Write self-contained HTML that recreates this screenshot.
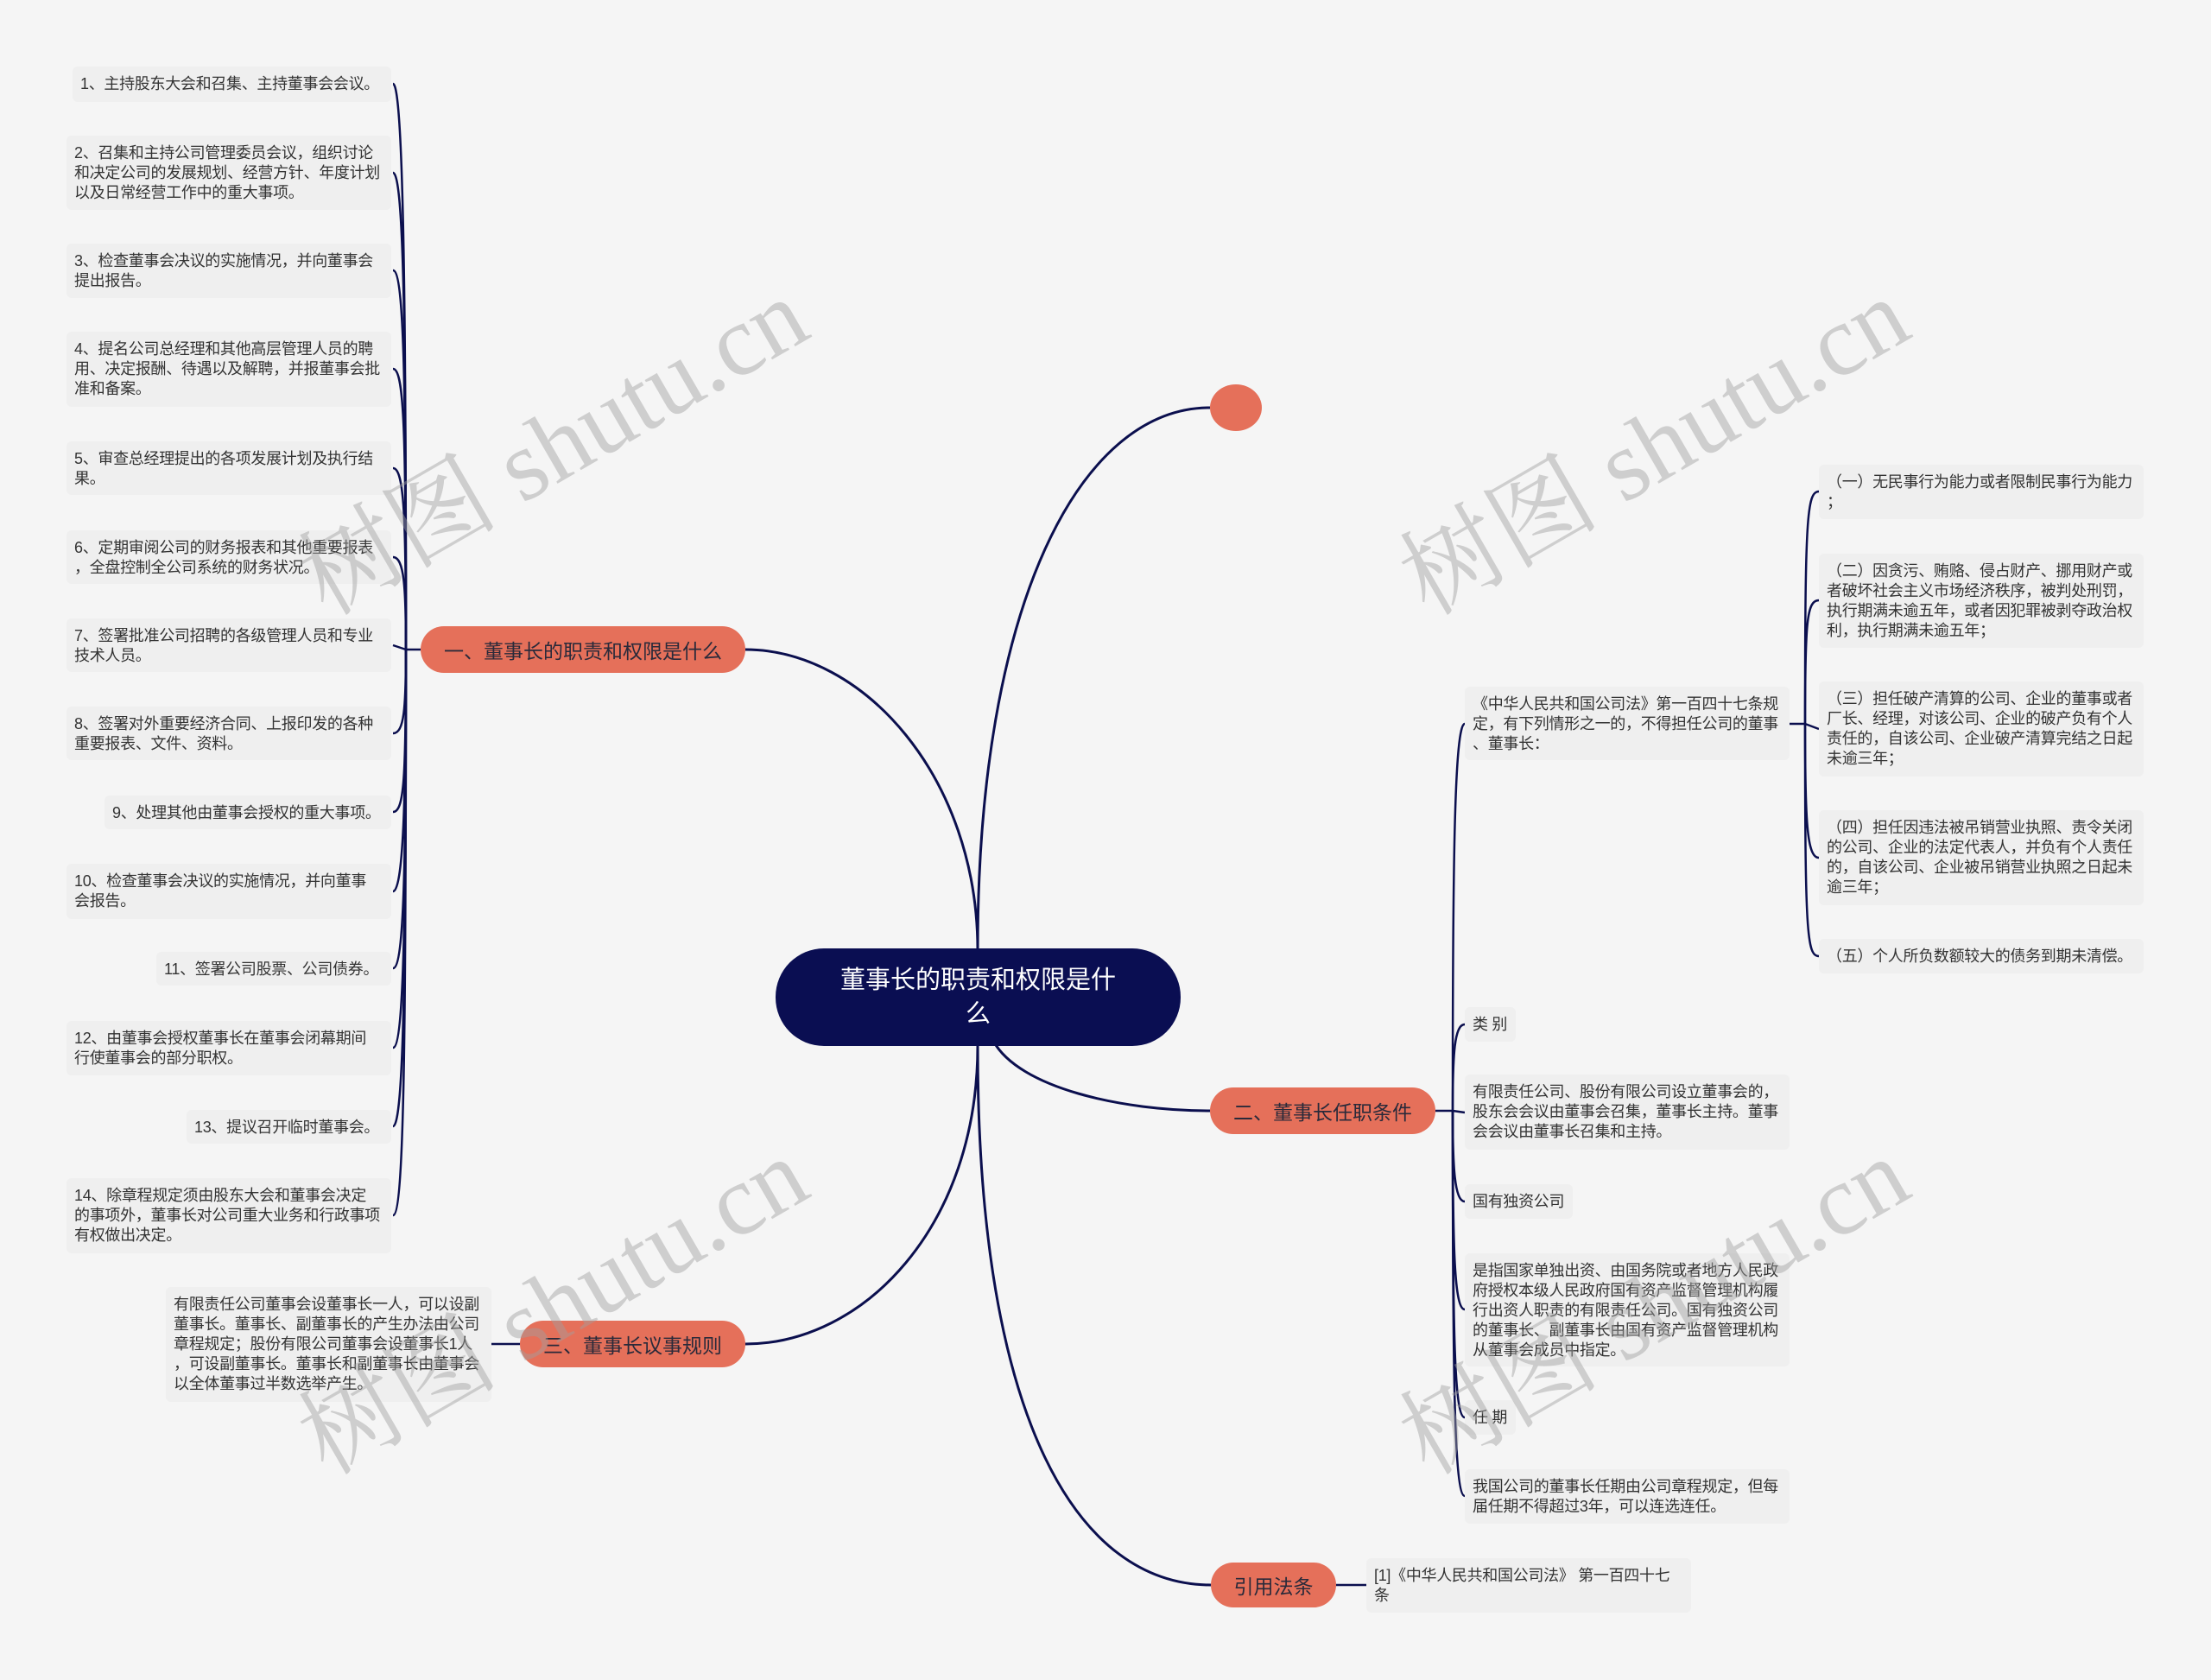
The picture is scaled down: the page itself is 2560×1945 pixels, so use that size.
<!DOCTYPE html>
<html><head><meta charset="utf-8">
<style>
html,body{margin:0;padding:0;}
body{width:2560px;height:1945px;background:#f5f5f5;position:relative;overflow:hidden;font-family:"Liberation Sans","Noto Sans CJK SC",sans-serif;}
.b{position:absolute;background:#efefef;border-radius:6px;font-size:18px;line-height:23px;color:#333;box-sizing:border-box;padding:9px 9px 0 9px;white-space:nowrap;letter-spacing:-0.3px;}
.o{position:absolute;background:#e5705a;border-radius:30px;color:#2a2a3a;font-size:23px;display:flex;align-items:center;justify-content:center;box-sizing:border-box;white-space:nowrap;}
.wm{position:absolute;font-family:"Liberation Serif","Noto Serif CJK SC",serif;font-size:116px;color:rgba(160,160,160,0.45);transform:rotate(-30deg);transform-origin:center;white-space:nowrap;}
svg{position:absolute;left:0;top:0;}
</style></head><body>
<svg width="2560" height="1945" fill="none" stroke="#0b0f4e" stroke-width="3">
<path d="M1132,1100 C1132,700 1250,472 1401,472"/>
<path d="M1132,1100 C1132,900 1000,752 863,752"/>
<path d="M1150,1205 C1180,1260 1300,1286 1401,1286"/>
<path d="M1132,1211 C1132,1420 1000,1556 863,1556"/>
<path d="M1132,1211 C1132,1650 1250,1835 1402,1835"/>
<g stroke-width="2.5">
<path d="M487,752 L470,752"/>
<path d="M470,752 C470,400 468,97 455,97"/>
<path d="M470,752 C470,400 468,200 455,200"/>
<path d="M470,752 C470,450 468,313 455,313"/>
<path d="M470,752 C470,500 468,427 455,427"/>
<path d="M470,752 C470,600 468,542 455,542"/>
<path d="M470,752 C470,680 468,645 455,645"/>
<path d="M470,752 L455,747"/>
<path d="M470,752 C470,820 468,849 455,849"/>
<path d="M470,752 C470,900 468,940 455,940"/>
<path d="M470,752 C470,900 468,1032 455,1032"/>
<path d="M470,752 C470,1000 468,1121 455,1121"/>
<path d="M470,752 C470,1050 468,1213 455,1213"/>
<path d="M470,752 C470,1100 468,1304 455,1304"/>
<path d="M470,752 C470,1200 468,1407 455,1407"/>
<path d="M602,1556 L569,1556"/>
<path d="M1662,1286 L1682,1286"/>
<path d="M1682,1286 C1682,1000 1684,838 1696,838"/>
<path d="M1682,1286 C1682,1220 1684,1186 1696,1186"/>
<path d="M1682,1286 L1696,1288"/>
<path d="M1682,1286 C1682,1350 1684,1391 1696,1391"/>
<path d="M1682,1286 C1682,1450 1684,1516 1696,1516"/>
<path d="M1682,1286 C1682,1550 1684,1641 1696,1641"/>
<path d="M1682,1286 C1682,1600 1684,1732 1696,1732"/>
<path d="M2072,838 L2090,838"/>
<path d="M2090,838 C2090,600 2092,569 2106,569"/>
<path d="M2090,838 C2090,720 2092,695 2106,695"/>
<path d="M2090,838 L2106,844"/>
<path d="M2090,838 C2090,950 2092,993 2106,993"/>
<path d="M2090,838 C2090,1080 2092,1107 2106,1107"/>
<path d="M1547,1835 L1582,1835"/>
</g>
</svg>

<div class="b" style="left:84px;top:77px;width:369px;height:41px;">1、主持股东大会和召集、主持董事会会议。</div>
<div class="b" style="left:77px;top:157px;width:376px;height:86px;">2、召集和主持公司管理委员会议，组织讨论<br>和决定公司的发展规划、经营方针、年度计划<br>以及日常经营工作中的重大事项。</div>
<div class="b" style="left:77px;top:282px;width:376px;height:63px;">3、检查董事会决议的实施情况，并向董事会<br>提出报告。</div>
<div class="b" style="left:77px;top:384px;width:376px;height:87px;">4、提名公司总经理和其他高层管理人员的聘<br>用、决定报酬、待遇以及解聘，并报董事会批<br>准和备案。</div>
<div class="b" style="left:77px;top:511px;width:376px;height:62px;">5、审查总经理提出的各项发展计划及执行结<br>果。</div>
<div class="b" style="left:77px;top:614px;width:376px;height:62px;">6、定期审阅公司的财务报表和其他重要报表<br>，全盘控制全公司系统的财务状况。</div>
<div class="b" style="left:77px;top:716px;width:376px;height:62px;">7、签署批准公司招聘的各级管理人员和专业<br>技术人员。</div>
<div class="b" style="left:77px;top:818px;width:376px;height:62px;">8、签署对外重要经济合同、上报印发的各种<br>重要报表、文件、资料。</div>
<div class="b" style="left:121px;top:921px;width:332px;height:39px;">9、处理其他由董事会授权的重大事项。</div>
<div class="b" style="left:77px;top:1000px;width:376px;height:64px;">10、检查董事会决议的实施情况，并向董事<br>会报告。</div>
<div class="b" style="left:181px;top:1102px;width:272px;height:39px;">11、签署公司股票、公司债券。</div>
<div class="b" style="left:77px;top:1182px;width:376px;height:63px;">12、由董事会授权董事长在董事会闭幕期间<br>行使董事会的部分职权。</div>
<div class="b" style="left:216px;top:1285px;width:237px;height:39px;">13、提议召开临时董事会。</div>
<div class="b" style="left:77px;top:1364px;width:376px;height:87px;">14、除章程规定须由股东大会和董事会决定<br>的事项外，董事长对公司重大业务和行政事项<br>有权做出决定。</div>
<div class="b" style="left:192px;top:1490px;width:377px;height:133px;">有限责任公司董事会设董事长一人，可以设副<br>董事长。董事长、副董事长的产生办法由公司<br>章程规定；股份有限公司董事会设董事长1人<br>，可设副董事长。董事长和副董事长由董事会<br>以全体董事过半数选举产生。</div>

<div class="o" style="left:487px;top:725px;width:376px;height:54px;">一、董事长的职责和权限是什么</div>
<div class="o" style="left:602px;top:1529px;width:261px;height:54px;">三、董事长议事规则</div>
<div class="o" style="left:1401px;top:1259px;width:261px;height:54px;">二、董事长任职条件</div>
<div class="o" style="left:1402px;top:1809px;width:145px;height:52px;">引用法条</div>
<div class="o" style="left:1401px;top:445px;width:60px;height:54px;border-radius:50%;"></div>

<div style="position:absolute;left:898px;top:1098px;width:469px;height:113px;background:#0a0e52;border-radius:56px;color:#fff;font-size:29px;line-height:39px;text-align:center;box-sizing:border-box;padding-top:18px;">董事长的职责和权限是什<br>么</div>

<div class="b" style="left:1696px;top:795px;width:376px;height:85px;">《中华人民共和国公司法》第一百四十七条规<br>定，有下列情形之一的，不得担任公司的董事<br>、董事长：</div>
<div class="b" style="left:2106px;top:538px;width:376px;height:63px;">（一）无民事行为能力或者限制民事行为能力<br>；</div>
<div class="b" style="left:2106px;top:641px;width:376px;height:109px;">（二）因贪污、贿赂、侵占财产、挪用财产或<br>者破坏社会主义市场经济秩序，被判处刑罚，<br>执行期满未逾五年，或者因犯罪被剥夺政治权<br>利，执行期满未逾五年；</div>
<div class="b" style="left:2106px;top:789px;width:376px;height:110px;">（三）担任破产清算的公司、企业的董事或者<br>厂长、经理，对该公司、企业的破产负有个人<br>责任的，自该公司、企业破产清算完结之日起<br>未逾三年；</div>
<div class="b" style="left:2106px;top:938px;width:376px;height:110px;">（四）担任因违法被吊销营业执照、责令关闭<br>的公司、企业的法定代表人，并负有个人责任<br>的，自该公司、企业被吊销营业执照之日起未<br>逾三年；</div>
<div class="b" style="left:2106px;top:1087px;width:376px;height:40px;">（五）个人所负数额较大的债务到期未清偿。</div>
<div class="b" style="left:1696px;top:1166px;width:59px;height:40px;">类 别</div>
<div class="b" style="left:1696px;top:1244px;width:376px;height:87px;">有限责任公司、股份有限公司设立董事会的，<br>股东会会议由董事会召集，董事长主持。董事<br>会会议由董事长召集和主持。</div>
<div class="b" style="left:1696px;top:1371px;width:125px;height:40px;">国有独资公司</div>
<div class="b" style="left:1696px;top:1451px;width:376px;height:131px;">是指国家单独出资、由国务院或者地方人民政<br>府授权本级人民政府国有资产监督管理机构履<br>行出资人职责的有限责任公司。国有独资公司<br>的董事长、副董事长由国有资产监督管理机构<br>从董事会成员中指定。</div>
<div class="b" style="left:1696px;top:1621px;width:59px;height:40px;">任 期</div>
<div class="b" style="left:1696px;top:1701px;width:376px;height:63px;">我国公司的董事长任期由公司章程规定，但每<br>届任期不得超过3年，可以连选连任。</div>
<div class="b" style="left:1582px;top:1804px;width:376px;height:63px;">[1]《中华人民共和国公司法》 第一百四十七<br>条</div>

<div class="wm" style="left:310px;top:425px;">树图 shutu.cn</div>
<div class="wm" style="left:1585px;top:425px;">树图 shutu.cn</div>
<div class="wm" style="left:310px;top:1420px;">树图 shutu.cn</div>
<div class="wm" style="left:1585px;top:1420px;">树图 shutu.cn</div>
</body></html>
